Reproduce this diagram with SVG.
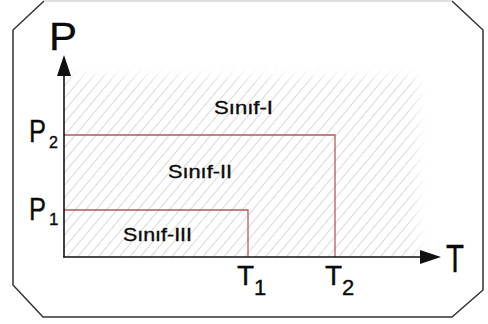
<svg xmlns="http://www.w3.org/2000/svg" width="488" height="324" viewBox="0 0 488 324">
<style>
.lbl{font-family:"Liberation Sans",Arial,sans-serif;fill:#0a0a0a;stroke:#0a0a0a;stroke-width:0.35;}
.red{stroke:#b45a5a;stroke-width:1.3;fill:none;}
.axis{stroke:#111;stroke-width:1.6;fill:none;}
</style>
<defs>
<pattern id="hatch" patternUnits="userSpaceOnUse" width="8" height="8" patternTransform="rotate(40)">
<line x1="0" y1="0" x2="0" y2="8" stroke="#b4b4b4" stroke-width="1"/>
</pattern>
<filter id="soft" x="-10%" y="-10%" width="120%" height="120%"><feGaussianBlur stdDeviation="6"/></filter>
<mask id="fade" maskUnits="userSpaceOnUse" x="0" y="0" width="488" height="324">
<rect x="50" y="76" width="368" height="200" fill="#fff" filter="url(#soft)"/>
</mask>
</defs>
<rect width="488" height="324" fill="#fff"/>
<g id="frame">
<polyline points="44,1 13,30 13,285 43,317 452,317 483,290 483,30 452,1" fill="none" stroke="#333" stroke-width="1.5"/>
<line x1="44" y1="1" x2="452" y2="1" stroke="#d4d4d4" stroke-width="1.5"/>
</g>
<g id="hatch-area">
<rect x="64" y="66" width="364" height="191" fill="url(#hatch)" mask="url(#fade)"/>
</g>
<g id="connectors">
<polyline class="red" points="64,135 335,135 335,257"/>
<polyline class="red" points="64,210 248,210 248,257"/>
<line class="axis" x1="64" y1="257" x2="64" y2="74"/>
<polygon points="64,55 57,76 71,76" fill="#111"/>
<line class="axis" x1="63" y1="257" x2="421" y2="257"/>
<polygon points="441,257 420,250 420,264" fill="#111"/>
</g>
<g id="axis-labels">
<text class="lbl" x="49" y="50" font-size="38" textLength="28" lengthAdjust="spacingAndGlyphs">P</text>
<text class="lbl" x="446" y="272" font-size="39" textLength="18" lengthAdjust="spacingAndGlyphs">T</text>
</g>
<g id="p2"><text class="lbl" x="29" y="142" font-size="31" textLength="17" lengthAdjust="spacingAndGlyphs">P</text><text class="lbl" x="49" y="148" font-size="16">2</text></g>
<g id="p1"><text class="lbl" x="29" y="220" font-size="31" textLength="17" lengthAdjust="spacingAndGlyphs">P</text><text class="lbl" x="49" y="225" font-size="17">1</text></g>
<g id="t1"><text class="lbl" x="237" y="285" font-size="28">T</text><text class="lbl" x="254" y="295" font-size="22">1</text></g>
<g id="t2"><text class="lbl" x="325" y="285" font-size="28">T</text><text class="lbl" x="342" y="295" font-size="22">2</text></g>
<g id="sinif1"><text class="lbl" x="214" y="114" font-size="18" textLength="59" lengthAdjust="spacingAndGlyphs">Sınıf-I</text></g>
<g id="sinif2"><text class="lbl" x="168" y="178" font-size="18" textLength="64" lengthAdjust="spacingAndGlyphs">Sınıf-II</text></g>
<g id="sinif3"><text class="lbl" x="123" y="241" font-size="18" textLength="69" lengthAdjust="spacingAndGlyphs">Sınıf-III</text></g>
</svg>
